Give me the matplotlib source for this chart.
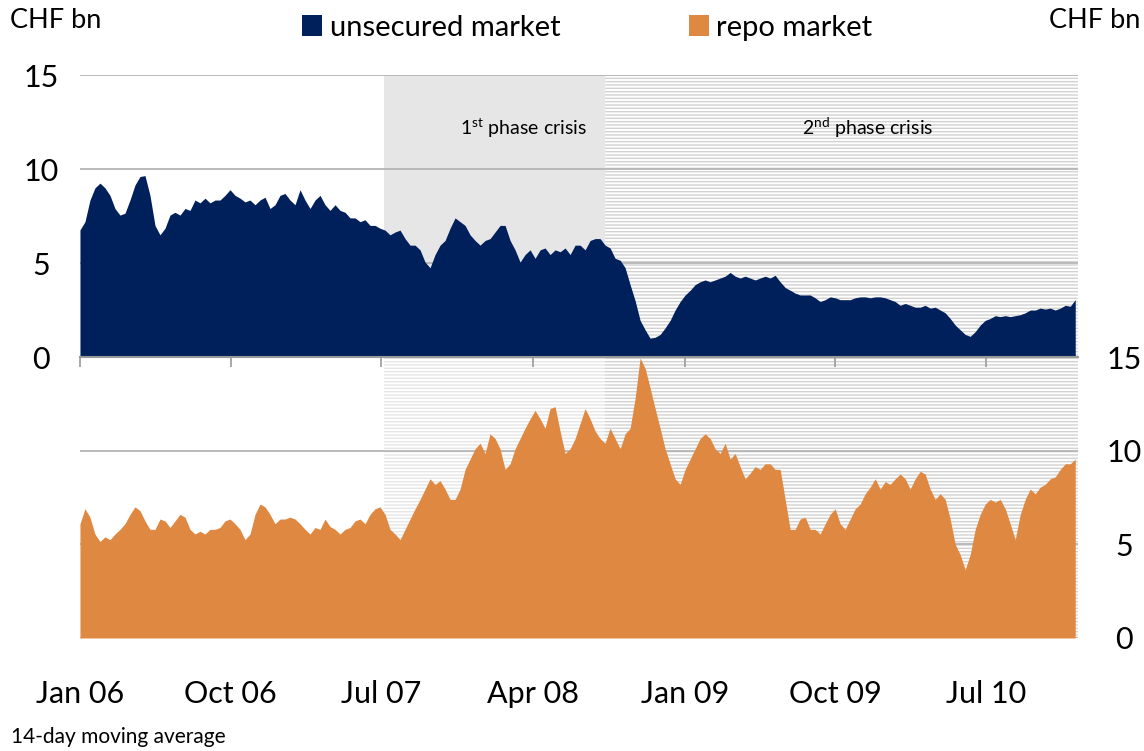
import matplotlib
matplotlib.use("Agg")
import matplotlib.pyplot as plt
import numpy as np
import pandas as pd

plt.rcParams['font.family'] = ['Lato', 'DejaVu Sans']
plt.rcParams['mathtext.fontset'] = 'custom'
plt.rcParams['mathtext.rm'] = 'Lato'
plt.rcParams['hatch.linewidth'] = 1.0

# 14-day moving averages, CHF bn, sampled every ~9 days
dates = pd.date_range('2006-01-01', '2010-12-10', periods=200)

unsecured = [
    6.76, 7.2, 8.35, 9.0, 9.25, 9.0, 8.6, 7.9, 7.55, 7.65,
    8.35, 9.15, 9.6, 9.65, 8.6, 7.0, 6.5, 6.85, 7.55, 7.7,
    7.55, 7.9, 7.8, 8.35, 8.2, 8.45, 8.2, 8.35, 8.35, 8.6,
    8.9, 8.6, 8.45, 8.25, 8.35, 8.1, 8.35, 8.5, 7.9, 8.1,
    8.6, 8.7, 8.35, 8.1, 8.9, 8.35, 7.9, 8.35, 8.6, 8.1,
    7.8, 8.1, 7.8, 7.7, 7.4, 7.4, 7.2, 7.3, 7.0, 7.0,
    6.85, 6.75, 6.5, 6.65, 6.75, 6.3, 5.95, 5.95, 5.7, 5.05,
    4.75, 5.45, 5.95, 6.2, 6.85, 7.4, 7.2, 7.0, 6.5, 6.2,
    5.95, 6.2, 6.3, 6.65, 7.0, 7.0, 6.2, 5.7, 5.05, 5.45,
    5.7, 5.25, 5.7, 5.8, 5.45, 5.7, 5.6, 5.8, 5.45, 5.95,
    5.95, 5.7, 6.2, 6.3, 6.3, 5.95, 5.8, 5.25, 5.15, 4.75,
    3.85, 3.0, 1.95, 1.45, 1.0, 1.05, 1.2, 1.55, 1.95, 2.5,
    2.95, 3.3, 3.55, 3.85, 4.0, 4.1, 4.0, 4.1, 4.2, 4.3,
    4.5, 4.3, 4.2, 4.3, 4.2, 4.1, 4.2, 4.3, 4.2, 4.35,
    4.0, 3.7, 3.55, 3.4, 3.3, 3.3, 3.3, 3.15, 2.95, 3.05,
    3.2, 3.15, 3.05, 3.05, 3.05, 3.15, 3.2, 3.2, 3.15, 3.2,
    3.2, 3.15, 3.05, 2.95, 2.75, 2.85, 2.75, 2.65, 2.65, 2.75,
    2.6, 2.65, 2.5, 2.35, 2.05, 1.7, 1.45, 1.2, 1.1, 1.35,
    1.7, 1.95, 2.05, 2.2, 2.15, 2.2, 2.15, 2.2, 2.25, 2.35,
    2.5, 2.5, 2.6, 2.55, 2.6, 2.5, 2.6, 2.75, 2.7, 3.05,
]

repo = [
    6.1, 6.9, 6.45, 5.55, 5.15, 5.4, 5.25, 5.55, 5.8, 6.1,
    6.6, 7.0, 6.8, 6.25, 5.8, 5.8, 6.35, 6.25, 5.9, 6.25,
    6.6, 6.45, 5.8, 5.55, 5.7, 5.55, 5.8, 5.8, 5.9, 6.25,
    6.35, 6.1, 5.8, 5.25, 5.55, 6.6, 7.15, 7.0, 6.6, 6.1,
    6.35, 6.35, 6.45, 6.35, 6.1, 5.8, 5.55, 5.9, 5.8, 6.35,
    5.95, 5.8, 5.55, 5.8, 5.9, 6.25, 6.35, 6.1, 6.6, 6.9,
    7.0, 6.6, 5.8, 5.55, 5.25, 5.8, 6.35, 6.9, 7.4, 7.95,
    8.5, 8.2, 8.4, 7.95, 7.4, 7.4, 7.95, 9.0, 9.55, 10.1,
    10.4, 9.85, 10.9, 10.65, 10.1, 9.0, 9.3, 10.1, 10.65, 11.2,
    11.7, 12.15, 11.7, 11.2, 12.25, 12.35, 11.05, 9.85, 10.1, 10.65,
    11.45, 12.25, 11.7, 11.05, 10.65, 10.4, 11.2, 10.65, 10.1, 10.9,
    11.2, 12.8, 14.95, 14.4, 13.35, 12.25, 11.2, 10.1, 9.3, 8.5,
    8.2, 9.0, 9.55, 10.1, 10.65, 10.9, 10.65, 10.1, 9.85, 10.4,
    9.55, 9.85, 9.15, 8.5, 8.8, 9.15, 9.0, 9.3, 9.3, 9.0,
    9.0, 7.4, 5.8, 5.8, 6.35, 6.45, 5.8, 5.8, 5.55, 6.1,
    6.6, 6.9, 6.1, 5.8, 6.35, 6.9, 7.15, 7.7, 8.05, 8.5,
    7.95, 8.35, 8.2, 8.5, 8.75, 8.5, 7.95, 8.5, 8.9, 8.75,
    7.95, 7.4, 7.7, 7.4, 6.35, 5.0, 4.45, 3.65, 4.45, 5.8,
    6.6, 7.15, 7.4, 7.25, 7.4, 6.9, 6.1, 5.25, 6.6, 7.4,
    7.95, 7.7, 8.05, 8.2, 8.5, 8.6, 9.0, 9.3, 9.3, 9.55,
]

phase1 = (pd.Timestamp('2007-07-06'), pd.Timestamp('2008-08-10'))
phase2 = (pd.Timestamp('2008-08-10'), pd.Timestamp('2010-12-15'))
x_ticks = pd.to_datetime(['2006-01-01', '2006-10-01', '2007-07-01', '2008-04-01',
                          '2009-01-01', '2009-10-01', '2010-07-01'])
x_labels = ['Jan 06', 'Oct 06', 'Jul 07', 'Apr 08', 'Jan 09', 'Oct 09', 'Jul 10']
y_ticks = [0, 5, 10, 15]

navy = '#00205b'
orange = '#de8841'
grid_c = '#b5b5b5'
xlim = (pd.Timestamp('2006-01-01'), pd.Timestamp('2010-12-15'))

fig = plt.figure(figsize=(11.44, 7.51), dpi=100)
ax1 = fig.add_axes([0.0699, 0.5246, 0.8724, 0.3755])
ax2 = fig.add_axes([0.0699, 0.1505, 0.8724, 0.3741])
ax1.set_zorder(3)

# top panel: unsecured
ax1.axvspan(*phase1, facecolor='#e6e6e6', edgecolor='none', zorder=0.2)
ax1.axvspan(*phase2, facecolor='white', edgecolor='#d2d2d2', hatch='-----', linewidth=0, zorder=0.2)
ax1.fill_between(dates, unsecured, 0, color=navy, linewidth=0, zorder=2, label='unsecured market')
ax1.set_xlim(xlim)
ax1.set_ylim(0, 15)
ax1.set_yticks(y_ticks)
ax1.set_xticks(x_ticks)
ax1.set_xticklabels([])
ax1.grid(axis='y', color=grid_c, linewidth=1.3)
ax1.set_axisbelow(True)
for s in ['top', 'left', 'right']:
    ax1.spines[s].set_visible(False)
ax1.spines['bottom'].set_color('#999999')
ax1.spines['bottom'].set_linewidth(1.5)
ax1.tick_params(axis='x', direction='out', length=7, width=1.2, color='#999999')
ax1.tick_params(axis='y', length=0, pad=28, labelsize=22)
for lab in ax1.get_yticklabels():
    lab.set_horizontalalignment('center')

ax1.text(pd.Timestamp('2008-03-15'), 12.2, '1$^{\\rm st}$ phase crisis', ha='center', va='center', fontsize=14)
ax1.text(pd.Timestamp('2009-11-28'), 12.2, '2$^{\\rm nd}$ phase crisis', ha='center', va='center', fontsize=14)

# bottom panel: repo
ax2.axvspan(*phase1, facecolor='white', edgecolor='#e6e6e6', hatch='-----', linewidth=0, zorder=0.2)
ax2.axvspan(*phase2, facecolor='white', edgecolor='#d2d2d2', hatch='-----', linewidth=0, zorder=0.2)
ax2.fill_between(dates, repo, 0, color=orange, linewidth=0, zorder=2, label='repo market')
ax2.set_xlim(xlim)
ax2.set_ylim(0, 15)
ax2.grid(axis='y', color=grid_c, linewidth=1.3)
ax2.set_axisbelow(True)
for s in ax2.spines.values():
    s.set_visible(False)
ax2.set_xticks(x_ticks)
ax2.set_xticklabels(x_labels)
ax2.tick_params(axis='x', length=0, pad=30, labelsize=22)
ax2.yaxis.tick_right()
ax2.set_yticks(y_ticks)
ax2.tick_params(axis='y', length=0, pad=33, labelsize=22)
for lab in ax2.get_yticklabels():
    lab.set_horizontalalignment('center')

fig.text(0.009, 0.973, 'CHF bn', fontsize=19.5, ha='left', va='center')
fig.text(0.997, 0.973, 'CHF bn', fontsize=19.5, ha='right', va='center')
fig.text(0.010, 0.019, '14-day moving average', fontsize=15, ha='left', va='center')

h1, l1 = ax1.get_legend_handles_labels()
h2, l2 = ax2.get_legend_handles_labels()
fig.legend(h1 + h2, l1 + l2, loc='center left', bbox_to_anchor=(0.264, 0.963), ncol=2,
           frameon=False, fontsize=21, handlelength=0.7, handleheight=0.7, borderpad=0,
           borderaxespad=0, handletextpad=0.25, columnspacing=4.4)

fig.savefig('out.png', dpi=100)
